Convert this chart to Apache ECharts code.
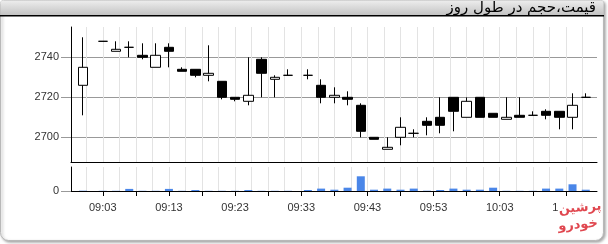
<!DOCTYPE html>
<html><head><meta charset="utf-8">
<script src="https://cdn.jsdelivr.net/npm/echarts@6/dist/echarts.min.js"></script>
<style>html,body{margin:0;padding:0;background:#fff}#c{width:608px;height:244px}</style>
</head><body><div id="c"></div>
<script>
const title = 'قیمت،حجم در طول روز';
const times = ['09:00','09:03','09:05','09:07','09:09','09:11','09:13','09:15','09:17','09:19','09:21','09:23','09:25','09:27','09:29','09:31','09:34','09:36','09:38','09:40','09:42','09:44','09:46','09:48','09:50','09:52','09:54','09:56','09:58','10:00','10:02','10:04','10:06','10:08','10:10','10:12','10:14','10:16'];
const opens  = [2726,2748,2743,2745,2741,2735,2745,2734,2734,2731,2728,2720,2718,2739,2729,2731,2731,2726,2720,2720,2716,2700,2694,2700,2702,2708,2710,2720,2710,2720,2712,2709,2711,2711,2713,2713,2710,2720];
const closes = [2735,2748,2744,2745,2740,2741,2743,2733,2731,2732,2720,2719,2721,2732,2730,2731,2731,2720,2721,2719,2703,2699,2695,2705,2702,2706,2706,2713,2718,2710,2710,2710,2710,2711,2711,2710,2716,2720];
const lows   = [2711,2748,2743,2740,2739,2735,2735,2733,2730,2728,2719,2718,2716,2720,2720,2731,2729,2717,2717,2716,2700,2699,2694,2696,2700,2701,2702,2703,2710,2710,2710,2709,2710,2711,2709,2704,2704,2720];
const highs  = [2750,2748,2748,2748,2747,2747,2747,2735,2734,2746,2728,2720,2740,2740,2731,2734,2734,2729,2725,2723,2717,2700,2700,2710,2704,2710,2720,2720,2720,2720,2712,2720,2720,2713,2714,2713,2722,2722];
const volumes = [30000,20000,20000,210000,20000,20000,210000,20000,100000,20000,20000,20000,100000,20000,20000,20000,100000,240000,130000,330000,1470000,130000,240000,130000,240000,30000,100000,240000,130000,130000,330000,20000,20000,20000,240000,240000,670000,130000];
const priceTicks = [2700, 2720, 2740];
const volumeTicks = [0];
const timeTicks = ['09:03','09:08','09:13','09:18','09:23','09:28','09:33','09:38','09:43','09:48','09:53','09:58','10:03','10:08','10:13'];
const timeLabels = ['09:03','09:13','09:23','09:33','09:43','09:53','10:03','10:13'];

const toMin = s => { const p = s.split(':'); return (+p[0]) * 60 + (+p[1]); };
const fmt = v => { v = Math.round(v); const h = Math.floor(v / 60), m = v % 60; return String(h).padStart(2, '0') + ':' + String(m).padStart(2, '0'); };
const xs = times.map(toMin);
const candle = xs.map((x, i) => [x, opens[i], closes[i], lows[i], highs[i]]);
const vol = xs.map((x, i) => [x, volumes[i]]);
const tickVals = timeTicks.map(toMin);
const labelVals = timeLabels.map(toMin);
const gridVals = [];
tickVals.forEach(t => { gridVals.push(t - 2.5, t); });
gridVals.push(tickVals[tickVals.length - 1] + 2.5);
const X_MIN = 538.2, X_MAX = 617.7;

const chart = echarts.init(document.getElementById('c'), null, {renderer: 'canvas'});
const font = 'Liberation Sans, Arial, sans-serif';
chart.setOption({
  animation: false,
  textStyle: {fontFamily: font},
  grid: [
    {left: 71, right: 11, top: 27, bottom: 82},
    {left: 71, right: 11, top: 167, bottom: 53}
  ],
  xAxis: [
    {gridIndex: 0, type: 'value', min: X_MIN, max: X_MAX,
     axisLine: {onZero: false, lineStyle: {color: '#000', width: 1}},
     axisTick: {show: false, customValues: gridVals},
     axisLabel: {show: false},
     splitLine: {show: true, lineStyle: {color: '#e3e3e3', width: 1}}},
    {gridIndex: 1, type: 'value', min: X_MIN, max: X_MAX, position: 'bottom',
     axisLine: {onZero: false, lineStyle: {color: '#000', width: 1}},
     axisTick: {show: true, length: 5, customValues: tickVals, lineStyle: {color: '#000'}},
     axisLabel: {customValues: labelVals, formatter: fmt, color: '#333', fontSize: 11, margin: 11, fontFamily: font},
     splitLine: {show: false}},
    {gridIndex: 1, type: 'value', min: X_MIN, max: X_MAX, position: 'top',
     axisLine: {show: false},
     axisTick: {show: false, customValues: gridVals},
     axisLabel: {show: false},
     splitLine: {show: true, lineStyle: {color: '#e3e3e3', width: 1}}}
  ],
  yAxis: [
    {gridIndex: 0, type: 'value', min: 2687.65, max: 2755.15,
     axisLine: {show: true, onZero: false, lineStyle: {color: '#000', width: 1}},
     axisTick: {show: true, length: 10, customValues: priceTicks, lineStyle: {color: '#999'}},
     axisLabel: {customValues: priceTicks, formatter: v => String(Math.round(v)), color: '#333', fontSize: 11, margin: 12, fontFamily: font},
     splitLine: {show: true, lineStyle: {color: '#999', width: 1}}},
    {gridIndex: 1, type: 'value', min: 0, max: 2400000,
     axisLine: {show: true, onZero: false, lineStyle: {color: '#000', width: 1}},
     axisTick: {show: true, length: 10, customValues: volumeTicks, lineStyle: {color: '#999'}},
     axisLabel: {customValues: volumeTicks, formatter: v => String(Math.round(v)), color: '#333', fontSize: 11, margin: 12, fontFamily: font},
     splitLine: {show: false}}
  ],
  series: [
    {type: 'candlestick', xAxisIndex: 0, yAxisIndex: 0, data: candle,
     encode: {x: 0, y: [1, 2, 3, 4]}, barWidth: 10,
     itemStyle: {color: '#fff', color0: '#000', borderColor: '#000', borderColor0: '#000', borderColorDoji: '#000', borderWidth: 1}},
    {type: 'bar', xAxisIndex: 1, yAxisIndex: 1, data: vol, barWidth: 8,
     itemStyle: {color: '#4a86e8'}}
  ],
  graphic: [
    {type: 'rect', z: -100, silent: true,
     shape: {x: 0.5, y: 0.5, width: 603, height: 240, r: [3, 3, 8, 8]},
     style: {fill: '#fff', stroke: '#b8b8b8', lineWidth: 1, shadowBlur: 3, shadowOffsetX: 1.5, shadowOffsetY: 1.5, shadowColor: 'rgba(0,0,0,0.35)'}},
    {type: 'rect', z: -90, silent: true,
     shape: {x: 0.5, y: 0.5, width: 603, height: 15, r: [3, 3, 0, 0]},
     style: {fill: new echarts.graphic.LinearGradient(0, 0, 0, 1, [{offset: 0, color: '#ededed'}, {offset: 1, color: '#c2c2c2'}])}},
    {type: 'rect', z: -80, silent: true, shape: {x: 0, y: 15, width: 604, height: 1.5}, style: {fill: '#000'}},
    {type: 'text', z: 10, x: 596, y: 8,
     style: {text: title, font: '15px "DejaVu Sans", sans-serif', fill: '#000', textAlign: 'right', textVerticalAlign: 'middle'}},
    {type: 'rect', z: 20, silent: true, shape: {x: 558, y: 199, width: 42, height: 36}, style: {fill: '#fff'}},
    {type: 'text', z: 21, x: 580, y: 208, rotation: 0.08,
     style: {text: 'پرشین', font: 'bold 13px "DejaVu Sans", sans-serif', fill: '#e0474f', stroke: '#fff', lineWidth: 1, textAlign: 'center', textVerticalAlign: 'middle'}},
    {type: 'text', z: 21, x: 578, y: 225, rotation: 0.08,
     style: {text: 'خودرو', font: 'bold 13px "DejaVu Sans", sans-serif', fill: '#e0474f', stroke: '#fff', lineWidth: 1, textAlign: 'center', textVerticalAlign: 'middle'}}
  ]
});
</script></body></html>
